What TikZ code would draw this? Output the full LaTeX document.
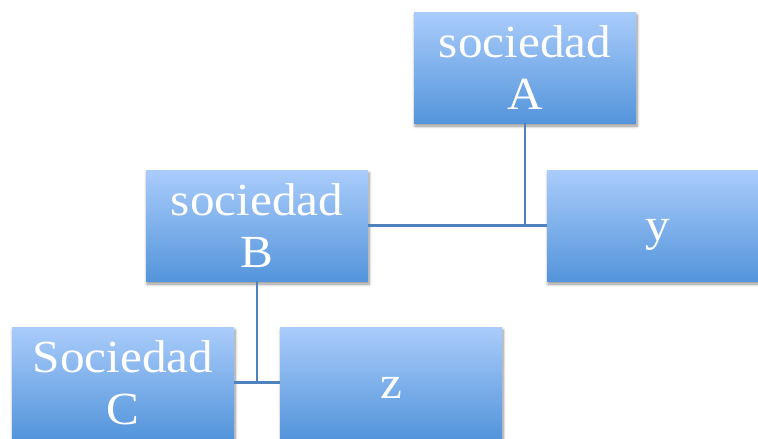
\documentclass[tikz,border=0pt]{standalone}
\usepackage{fontspec}
\setmainfont{Liberation Serif}[FakeStretch=1.07]
\usetikzlibrary{shadows,shadows.blur}
\definecolor{boxtop}{RGB}{170,204,251}
\definecolor{boxbot}{RGB}{84,149,219}
\definecolor{linkc}{RGB}{79,129,189}
\tikzset{
  orgbox/.style={rectangle, minimum width=222pt, minimum height=111pt, inner sep=0pt,
    top color=boxtop, bottom color=boxbot, text=white, align=center,
    font=\fontsize{46}{52}\selectfont,
    blur shadow={shadow xshift=1pt, shadow yshift=-3pt, shadow blur steps=6, shadow blur radius=3pt, shadow opacity=45}},
  link/.style={draw=linkc, line width=2.2pt}
}
\begin{document}
\begin{tikzpicture}[x=1pt,y=-1pt]
\useasboundingbox (0,0) rectangle (758,439);
\clip (0,0) rectangle (758,439);
\node[orgbox] (A) at (525,67.5) {sociedad\\A};
\node[orgbox] (B) at (257,225.5) {sociedad\\B};
\node[orgbox] (Y) at (658,225.5) {\raisebox{-15pt}[0pt][0pt]{y}};
\node[orgbox] (C) at (123,382.5) {Sociedad\\C};
\node[orgbox] (Z) at (391,382.5) {\raisebox{-15.5pt}[0pt][0pt]{z}};
\coordinate (j1) at (A.south |- B.east);
\coordinate (j2) at (B.south |- C.east);
\draw[link] (A.south) -- (j1);
\draw[link] (B.east) -- (Y.west);
\draw[link] (B.south) -- (j2);
\draw[link] (C.east) -- (Z.west);
\end{tikzpicture}
\end{document}
